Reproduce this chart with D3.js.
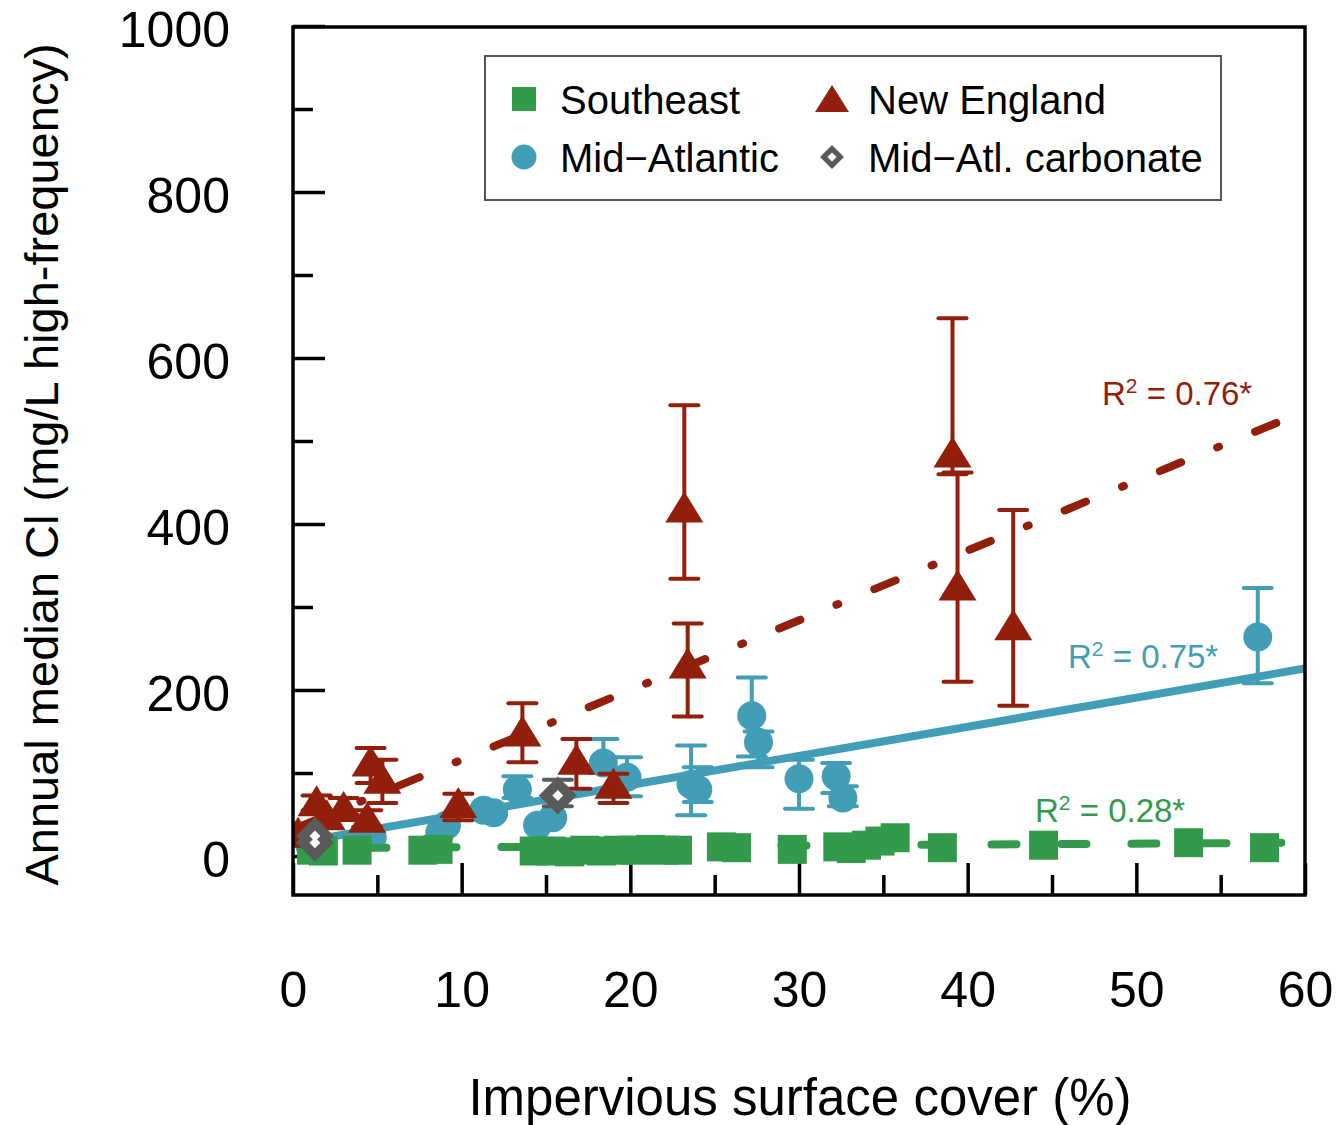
<!DOCTYPE html>
<html><head><meta charset="utf-8">
<script src="https://cdn.jsdelivr.net/npm/d3@7"></script>
<style>body{margin:0;background:#fff}svg{display:block}text{font-family:"Liberation Sans",Arial,Helvetica,sans-serif}</style>
</head><body><svg id="chart" width="1337" height="1125"></svg>
<script>
// ---------- data ----------
const xTicks = [0, 10, 20, 30, 40, 50, 60];
const xMinorTicks = [5, 15, 25, 35, 45, 55];
const yTicks = [0, 200, 400, 600, 800, 1000];
const yMinorTicks = [100, 300, 500, 700, 900];

// Southeast: [impervious %, Cl]
const southeast = [
  [1.1,7],[1.8,6],[3.8,7],[7.7,7],[8.6,8],[14.3,6],[15.3,6],[16.4,5],[17.3,7],[18.3,6],
  [19.3,7],[20.3,7],[21.2,8],[22.0,7],[22.8,7],[25.4,11],[26.3,10],[29.6,8],[32.3,11],
  [33.1,9],[34.0,13],[34.8,18],[35.7,22],[38.5,10],[44.5,13],[53.1,16],[57.6,10]
];
// Mid-Atlantic: [x, y, low, high]
const midAtlantic = [
  [1.0,13,13,13],[4.7,23,23,23],[8.7,28,28,28],[9.1,37,37,37],[11.3,55,55,55],[11.9,52,52,52],
  [13.3,80,70,96],[14.5,37,37,37],[15.4,46,46,46],[18.4,112,100,141],[19.8,95,72,119],
  [23.6,86,49,133],[24.0,80,65,107],[27.2,169,120,215],[27.6,137,107,150],[30.0,93,57,116],
  [32.2,96,76,112],[32.6,70,60,84],[57.2,264,208,323]
];
// New England: [x, y, low, high]
const newEngland = [
  [0.3,28,28,28],[1.4,66,55,73],[2.0,49,49,49],[3.0,59,50,70],[4.4,46,35,55],[4.6,114,88,130],
  [5.3,93,64,116],[9.8,64,43,75],[13.6,150,113,184],[16.8,116,81,141],[19.0,87,64,99],
  [23.2,420,334,543],[23.4,232,168,280],[39.1,486,460,648],[39.4,326,210,462],[42.7,278,181,417]
];
// Mid-Atl. carbonate: [x, y, low, high]
const carbonate = [[1.3,24,24,24],[1.3,16,16,16],[15.7,73,60,92]];

// regression fits
const fitNames = ["Southeast", "Mid-Atlantic", "New England"];
const fitIntercepts = [9.4, 15.3, 32];
const fitSlopes = [0.11, 3.51, 8.4];
const fitRanges = [[0.5, 58.6], [1.0, 60], [58.3, 0.5]];
const fitLabels = ["0.28*", "0.75*", "0.76*"];

// ---------- styles ----------
const GREEN = "#339a4c", BLUE = "#429eb6", RED = "#921e0c", GRAY = "#5a5a5a";

const svg = d3.select("#chart");
const x = d3.scaleLinear().domain([0, 60]).range([293, 1305]);
const y = d3.scaleLinear().domain([0, 1000]).range([856, 26]);
const yBottom = -47;

svg.append("defs").append("clipPath").attr("id", "plotclip").append("rect")
  .attr("x", x(0)).attr("y", y(1000)).attr("width", x(60) - x(0)).attr("height", y(yBottom) - y(1000));

// axes
const gx = svg.append("g").attr("transform", `translate(0,${y(yBottom)})`)
  .call(d3.axisBottom(x).tickValues(xTicks).tickSize(-32).tickPadding(76).tickFormat(d3.format("d")));
const gxm = svg.append("g").attr("transform", `translate(0,${y(yBottom)})`)
  .call(d3.axisBottom(x).tickValues(xMinorTicks).tickSize(-20).tickFormat(""));
const gy = svg.append("g").attr("transform", `translate(${x(0)},0)`)
  .call(d3.axisLeft(y).tickValues(yTicks).tickSize(-32).tickPadding(63).tickFormat(d3.format("d")));
const gym = svg.append("g").attr("transform", `translate(${x(0)},0)`)
  .call(d3.axisLeft(y).tickValues(yMinorTicks).tickSize(-20).tickFormat(""));
[gx, gxm, gy, gym].forEach(g => {
  g.select(".domain").remove();
  g.selectAll(".tick line").attr("stroke", "#000").attr("stroke-width", 3.5);
  g.selectAll(".tick text").attr("font-size", 50).attr("fill", "#000")
    .style("font-family", '"Liberation Sans", Arial, sans-serif');
});
gy.selectAll(".tick text").attr("dy", "0.4em");

// axis titles
svg.append("text").attr("x", 800).attr("y", 1115)
  .attr("text-anchor", "middle").attr("font-size", 51).text("Impervious surface cover (%)");
svg.append("text").attr("transform", `translate(58,${(y(1000) + y(yBottom)) / 2 + 4}) rotate(-90)`)
  .attr("text-anchor", "middle").attr("font-size", 47).text("Annual median Cl (mg/L high-frequency)");

const plot = svg.append("g").attr("clip-path", "url(#plotclip)");

function errBars(g, data, color) {
  const cw = 14;
  data.filter(d => d[3] > d[2]).forEach(d => {
    const cx = x(d[0]);
    g.append("line").attr("x1", cx).attr("x2", cx).attr("y1", y(d[2])).attr("y2", y(d[3]))
      .attr("stroke", color).attr("stroke-width", 4);
    [d[2], d[3]].forEach(v => {
      g.append("line").attr("x1", cx - cw).attr("x2", cx + cw).attr("y1", y(v)).attr("y2", y(v))
        .attr("stroke", color).attr("stroke-width", 4).attr("stroke-linecap", "round");
    });
  });
}

function fitLine(i, color, dash, offset) {
  const r = fitRanges[i];
  const pts = r.map(v => [x(v), y(fitIntercepts[i] + fitSlopes[i] * v)]);
  const p = plot.append("path").attr("d", d3.line()(pts)).attr("fill", "none")
    .attr("stroke", color).attr("stroke-width", 8).attr("stroke-linecap", "round");
  if (dash) p.attr("stroke-dasharray", dash).attr("stroke-dashoffset", offset);
}

// Mid-Atlantic
errBars(plot, midAtlantic, BLUE);
plot.selectAll("circle.ma").data(midAtlantic).join("circle").attr("class", "ma")
  .attr("cx", d => x(d[0])).attr("cy", d => y(d[1])).attr("r", 14.5).attr("fill", BLUE);
fitLine(1, BLUE, null, 0);

// Southeast
fitLine(0, GREEN, "25,45", 10);
plot.selectAll("rect.se").data(southeast).join("rect").attr("class", "se")
  .attr("x", d => x(d[0]) - 14.5).attr("y", d => y(d[1]) - 14.5)
  .attr("width", 29).attr("height", 29).attr("fill", GREEN);

// New England
errBars(plot, newEngland, RED);
const tri = d3.symbol().type({draw(ctx){ctx.moveTo(0,-16);ctx.lineTo(19,15);ctx.lineTo(-19,15);ctx.closePath();}});
plot.selectAll("path.ne").data(newEngland).join("path").attr("class", "ne")
  .attr("transform", d => `translate(${x(d[0])},${y(d[1])})`).attr("d", tri()).attr("fill", RED);
fitLine(2, RED, "23,39,2,39", 0);

// carbonate
errBars(plot, carbonate, GRAY);
const dia = (r) => `M0,${-r}L${r},0L0,${r}L${-r},0Z`;
plot.selectAll("path.cbo").data(carbonate).join("path").attr("class", "cbo")
  .attr("transform", d => `translate(${x(d[0])},${y(d[1])})`).attr("d", dia(19)).attr("fill", GRAY);
plot.selectAll("path.cbi").data(carbonate).join("path").attr("class", "cbi")
  .attr("transform", d => `translate(${x(d[0])},${y(d[1])})`).attr("d", dia(5.5)).attr("fill", "#fff");

// R² labels
const labelPos = [[1035, 822], [1068, 668], [1102, 405]];
const labelColors = [GREEN, BLUE, RED];
fitLabels.forEach((lab, i) => {
  const t = svg.append("text").attr("x", labelPos[i][0]).attr("y", labelPos[i][1])
    .attr("font-size", 33).attr("fill", labelColors[i]);
  t.append("tspan").text("R");
  t.append("tspan").attr("dy", -12).attr("font-size", 21).text("2");
  t.append("tspan").attr("dy", 12).text(" = " + lab);
});

// box
svg.append("rect").attr("x", x(0)).attr("y", y(1000) + 1).attr("width", x(60) - x(0))
  .attr("height", y(yBottom) - y(1000) - 1).attr("fill", "none").attr("stroke", "#000").attr("stroke-width", 3.5);

// legend
const leg = svg.append("g");
leg.append("rect").attr("x", 485).attr("y", 56).attr("width", 736).attr("height", 144)
  .attr("fill", "#fff").attr("stroke", "#555").attr("stroke-width", 2);
const legItems = [
  {name: "Southeast", cx: 524, cy: 99, kind: "square", color: GREEN},
  {name: "New England", cx: 832, cy: 99, kind: "tri", color: RED},
  {name: "Mid\u2212Atlantic", cx: 524, cy: 157, kind: "circle", color: BLUE},
  {name: "Mid\u2212Atl. carbonate", cx: 832, cy: 157, kind: "dia", color: GRAY}
];
legItems.forEach(it => {
  if (it.kind === "square") leg.append("rect").attr("x", it.cx - 12).attr("y", it.cy - 12).attr("width", 24).attr("height", 24).attr("fill", it.color);
  if (it.kind === "circle") leg.append("circle").attr("cx", it.cx).attr("cy", it.cy).attr("r", 12.5).attr("fill", it.color);
  if (it.kind === "tri") leg.append("path").attr("transform", `translate(${it.cx},${it.cy})`).attr("d", "M0,-14L17,13L-17,13Z").attr("fill", it.color);
  if (it.kind === "dia") {
    leg.append("path").attr("transform", `translate(${it.cx},${it.cy})`).attr("d", dia(12)).attr("fill", it.color);
    leg.append("path").attr("transform", `translate(${it.cx},${it.cy})`).attr("d", dia(4.5)).attr("fill", "#fff");
  }
  leg.append("text").attr("x", it.cx + 36).attr("y", it.cy + 15).attr("font-size", 40).attr("fill", "#000").text(it.name);
});
</script></body></html>
